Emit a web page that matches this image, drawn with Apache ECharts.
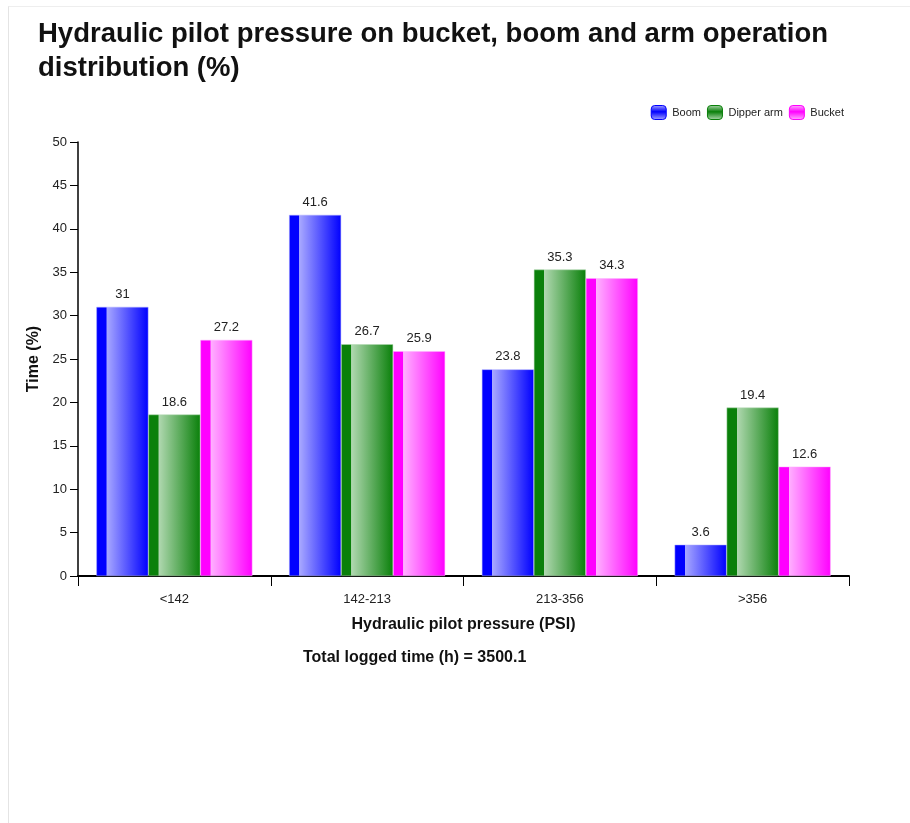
<!DOCTYPE html>
<html>
<head>
<meta charset="utf-8">
<script src="https://cdn.jsdelivr.net/npm/echarts@6/dist/echarts.min.js"></script>
<style>
  html, body { margin: 0; padding: 0; background: #fff; }
  #frame {
    position: absolute; left: 8px; top: 6px; width: 910px; height: 823px;
    border-left: 1px solid #e4e4e4; border-top: 1px solid #eeeeee;
  }
  #chart { position: absolute; left: 0; top: 0; width: 910px; height: 823px; }
</style>
</head>
<body>
<div id="frame"></div>
<div id="chart"></div>
<script>
// ====== pressure bands and shares of time per operation ======
const categories = ["<142", "142-213", "213-356", ">356"];
const boomData = [31, 41.6, 23.8, 3.6];
const dipperData = [18.6, 26.7, 35.3, 19.4];
const bucketData = [27.2, 25.9, 34.3, 12.6];
const totalHours = "3500.1";

const FONT = 'Arial, "Liberation Sans", sans-serif';

// solid strip on the left, then light -> solid sweep (glossy bar look)
const barFill = (solid, light) =>
  new echarts.graphic.LinearGradient(0, 0, 1, 0, [
    { offset: 0, color: solid },
    { offset: 0.19, color: solid },
    { offset: 0.2, color: light },
    { offset: 1, color: solid },
  ]);

const iconFill = (solid, light) =>
  new echarts.graphic.LinearGradient(0, 0, 0, 1, [
    { offset: 0, color: light },
    { offset: 0.45, color: solid },
    { offset: 1, color: light },
  ]);

const palette = [
  { name: "Boom", data: boomData, solid: "#0000ff", light: "#a8a8ff" },
  { name: "Dipper arm", data: dipperData, solid: "#0a800a", light: "#b0d8b0" },
  { name: "Bucket", data: bucketData, solid: "#ff00ff", light: "#ffb0ff" },
];

const chart = echarts.init(document.getElementById("chart"));

chart.setOption({
  animation: false,
  textStyle: { fontFamily: FONT },
  title: {
    text: "Hydraulic pilot pressure on bucket, boom and arm operation\ndistribution (%)",
    left: 33,
    top: 12,
    textStyle: { fontFamily: FONT, fontSize: 27.5, fontWeight: "bold", color: "#111", lineHeight: 34 },
  },
  legend: {
    right: 61,
    top: 100,
    itemWidth: 15,
    itemHeight: 14,
    itemGap: 6,
    icon: "roundRect",
    textStyle: { fontFamily: FONT, fontSize: 11, color: "#222", padding: [0, 0, 0, 1] },
    data: palette.map((p) => ({
      name: p.name,
      itemStyle: { color: iconFill(p.solid, p.light), borderColor: p.solid, borderWidth: 1 },
    })),
  },
  grid: { left: 78, right: 61, top: 142, bottom: 247 },
  xAxis: {
    type: "category",
    data: categories,
    name: "Hydraulic pilot pressure (PSI)",
    nameLocation: "middle",
    nameGap: 41,
    nameTextStyle: { fontFamily: FONT, fontSize: 16, fontWeight: "bold", color: "#111" },
    axisLine: { lineStyle: { color: "#000", width: 2 } },
    axisTick: { show: true, length: 10, lineStyle: { color: "#000", width: 1 } },
    axisLabel: { fontFamily: FONT, fontSize: 13, color: "#222", margin: 17 },
  },
  yAxis: {
    type: "value",
    min: 0,
    max: 50,
    interval: 5,
    name: "Time (%)",
    nameLocation: "middle",
    nameGap: 36,
    nameTextStyle: { fontFamily: FONT, fontSize: 16, fontWeight: "bold", color: "#111" },
    axisLine: { show: true, lineStyle: { color: "#000", width: 1.5 } },
    axisTick: { show: true, length: 8, lineStyle: { color: "#000" } },
    axisLabel: { fontFamily: FONT, fontSize: 13, color: "#222", margin: 11 },
    splitLine: { show: false },
  },
  graphic: [
    {
      type: "text",
      left: 303,
      top: 650,
      style: {
        text: "Total logged time (h) = " + totalHours,
        font: "bold 16px " + FONT,
        fill: "#111",
      },
    },
  ],
  series: palette.map((p) => ({
    type: "bar",
    name: p.name,
    data: p.data,
    barWidth: 52,
    barGap: "0%",
    itemStyle: { color: barFill(p.solid, p.light), borderColor: p.light, borderWidth: 0.5 },
    label: {
      show: true,
      position: "top",
      distance: 6,
      fontFamily: FONT,
      fontSize: 13,
      color: "#222",
    },
  })),
});
</script>
</body>
</html>
